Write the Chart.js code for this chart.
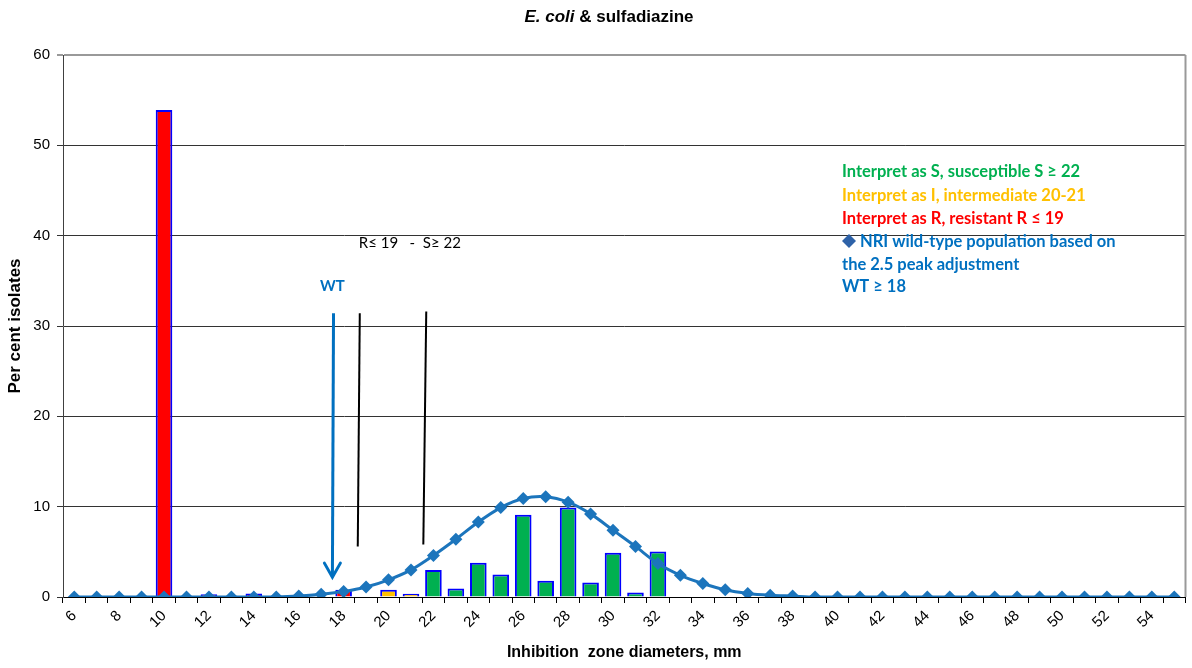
<!DOCTYPE html>
<html>
<head>
<meta charset="utf-8">
<title>E. coli &amp; sulfadiazine</title>
<script src="https://cdn.jsdelivr.net/npm/chart.js@4/dist/chart.umd.min.js"></script>
<style>
  html, body { margin: 0; padding: 0; background: #ffffff; }
  #wrap { width: 1192px; height: 668px; position: relative; }
</style>
</head>
<body>
<div id="wrap"><canvas id="chart" width="1192" height="668"></canvas></div>
<script>
// Inhibition zone diameters (mm), one category per millimetre
const zones = [6, 7, 8, 9, 10, 11, 12, 13, 14, 15, 16, 17, 18, 19, 20, 21, 22, 23, 24, 25,
               26, 27, 28, 29, 30, 31, 32, 33, 34, 35, 36, 37, 38, 39, 40, 41, 42, 43, 44, 45,
               46, 47, 48, 49, 50, 51, 52, 53, 54, 55];

// Per cent of isolates at each zone diameter (null = no isolates)
const isolates = [null, null, null, null, 53.9, null, 0.3, null, 0.4, null, null, null, 0.8, null, 0.8, 0.35, 3.0, 0.95, 3.8, 2.5,
                  9.1, 1.8, 9.9, 1.6, 4.9, 0.5, 5.05, null, null, null, null, null, null, null, null, null, null, null, null, null,
                  null, null, null, null, null, null, null, null, null, null];

// NRI wild-type population (2.5 peak adjustment)
const wildType = [0, 0, 0, 0, 0, 0, 0, 0, 0, 0, 0.1, 0.3, 0.6, 1.1, 1.9, 3.0, 4.6, 6.4, 8.3, 9.9,
                  10.9, 11.1, 10.5, 9.2, 7.4, 5.6, 3.7, 2.4, 1.5, 0.8, 0.4, 0.2, 0.1, 0, 0, 0, 0, 0, 0, 0,
                  0, 0, 0, 0, 0, 0, 0, 0, 0, 0];

// Clinical breakpoints
const resistantMax = 19;
const susceptibleMin = 22;
const wildTypeMin = 18;

const yTicks = [0, 10, 20, 30, 40, 50, 60];

// Legend / interpretation lines
const legendLines = [
  { text: 'Interpret as S, susceptible S \u2265 22', color: '#00B050' },
  { text: 'Interpret as I, intermediate 20-21', color: '#FFC000' },
  { text: 'Interpret as R, resistant R \u2264 19', color: '#FF0000' },
  { text: ' NRI wild-type population based on', color: '#0070C0', marker: true },
  { text: 'the 2.5 peak adjustment', color: '#0070C0' },
  { text: 'WT \u2265 18', color: '#0070C0' }
];

// Breakpoint markers, in axis units: [index top, value top, index bottom, value bottom]
const wtArrow = [11.55, 31.4, 11.5, 2.2];
const rLine = [12.72, 31.4, 12.63, 5.6];
const sLine = [15.68, 31.6, 15.55, 5.8];

const GREEN = '#00B050', ORANGE = '#FFC000', RED = '#FF0000', BLUE = '#0070C0';
const LINE_BLUE = '#1C75BC';

const barColors = zones.map(z => z <= resistantMax ? RED : (z < susceptibleMin ? ORANGE : GREEN));

const SANS = "'Liberation Sans', Arial, sans-serif";
const CAL = "Lato, 'Open Sans', sans-serif";

// draws text horizontally condensed, like a narrow face
function narrowText(ctx, text, x, y, squeeze) {
  ctx.save();
  ctx.translate(x, y);
  ctx.scale(squeeze, 1);
  ctx.fillText(text, 0, 0);
  ctx.restore();
}

const overlay = {
  id: 'overlay',
  afterDatasetsDraw(chart) {
    const { ctx, chartArea } = chart;
    const x = chart.scales.x, y = chart.scales.y;
    const px = v => x.getPixelForValue(v);
    const py = v => y.getPixelForValue(v);
    ctx.save();
    // right frame edge
    ctx.strokeStyle = '#999999';
    ctx.lineWidth = 2;
    ctx.beginPath();
    ctx.moveTo(chartArea.right, chartArea.top);
    ctx.lineTo(chartArea.right, chartArea.bottom);
    ctx.stroke();

    // breakpoint lines
    ctx.strokeStyle = '#000000';
    ctx.lineWidth = 2;
    [rLine, sLine].forEach(l => {
      ctx.beginPath();
      ctx.moveTo(px(l[0]), py(l[1]));
      ctx.lineTo(px(l[2]), py(l[3]));
      ctx.stroke();
    });

    // wild-type cut-off arrow
    ctx.strokeStyle = BLUE;
    ctx.lineWidth = 3;
    const ax = px(wtArrow[2]), ay = py(wtArrow[3]);
    ctx.beginPath();
    ctx.moveTo(px(wtArrow[0]), py(wtArrow[1]));
    ctx.lineTo(ax, ay);
    ctx.stroke();
    ctx.lineCap = 'round';
    ctx.beginPath();
    ctx.moveTo(ax - 8, ay - 14);
    ctx.lineTo(ax, ay);
    ctx.lineTo(ax + 8, ay - 14);
    ctx.stroke();

    // annotation labels
    ctx.textBaseline = 'middle';
    ctx.textAlign = 'center';
    ctx.fillStyle = BLUE;
    ctx.font = 'bold 15px ' + CAL;
    ctx.fillText('WT', px(11.5), py(34.4));
    ctx.fillStyle = '#000000';
    ctx.font = '15px ' + CAL;
    ctx.fillText('R\u2264 19   -  S\u2265 22', px(14.95), py(39.2));
    ctx.restore();
  },
  afterDraw(chart) {
    const { ctx } = chart;
    ctx.save();
    // title with italic species name
    ctx.textBaseline = 'middle';
    ctx.fillStyle = '#000000';
    const part1 = 'E. coli';
    const part2 = ' & sulfadiazine';
    ctx.font = 'italic bold 17px ' + SANS;
    const w1 = ctx.measureText(part1).width;
    ctx.font = 'bold 17px ' + SANS;
    const w2 = ctx.measureText(part2).width;
    let tx = 609 - (w1 + w2) / 2;
    ctx.textAlign = 'left';
    ctx.font = 'italic bold 17px ' + SANS;
    ctx.fillText(part1, tx, 17);
    ctx.font = 'bold 17px ' + SANS;
    ctx.fillText(part2, tx + w1, 17);

    // interpretation legend
    const lx = 842;
    const ly = [172, 196, 219, 242, 265, 287];
    ctx.font = 'bold 16.5px ' + CAL;
    legendLines.forEach((l, i) => {
      let x0 = lx;
      if (l.marker) {
        ctx.fillStyle = '#2E62A8';
        ctx.beginPath();
        ctx.moveTo(x0 + 7, ly[i] - 8);
        ctx.lineTo(x0 + 14, ly[i] - 1);
        ctx.lineTo(x0 + 7, ly[i] + 6);
        ctx.lineTo(x0, ly[i] - 1);
        ctx.closePath();
        ctx.fill();
        x0 += 14;
      }
      ctx.fillStyle = l.color;
      ctx.fillText(l.text, x0, ly[i]);
    });
    ctx.restore();
  }
};

new Chart(document.getElementById('chart'), {
  type: 'bar',
  data: {
    labels: zones,
    datasets: [
      {
        type: 'line',
        label: 'NRI wild-type population',
        data: wildType,
        borderColor: LINE_BLUE,
        backgroundColor: LINE_BLUE,
        borderWidth: 3,
        tension: 0.3,
        pointStyle: 'rectRot',
        pointRadius: 6.5,
        pointBorderWidth: 0,
        pointBackgroundColor: LINE_BLUE,
        order: 0
      },
      {
        type: 'bar',
        label: 'Isolates',
        data: isolates,
        backgroundColor: barColors,
        borderColor: '#0000FF',
        borderWidth: 2,
        categoryPercentage: 1.0,
        barPercentage: 0.74,
        order: 1
      }
    ]
  },
  options: {
    responsive: false,
    animation: false,
    devicePixelRatio: 1,
    layout: { padding: { top: 55, left: 0, right: 4, bottom: 0 } },
    plugins: {
      legend: { display: false },
      title: { display: false },
      tooltip: { enabled: false }
    },
    scales: {
      x: {
        type: 'category',
        offset: true,
        afterFit(scale) { scale.height = 71; },
        grid: {
          offset: true,
          drawOnChartArea: false,
          drawTicks: true,
          tickLength: 6,
          color: '#000000'
        },
        border: { color: '#000000', width: 1 },
        ticks: {
          autoSkip: false,
          minRotation: 45,
          maxRotation: 45,
          padding: 4,
          color: '#000000',
          font: { family: SANS, size: 15 },
          callback(value, index) {
            const z = zones[index];
            return z % 2 === 0 ? String(z) : '';
          }
        },
        title: {
          display: true,
          text: 'Inhibition  zone diameters, mm',
          color: '#000000',
          font: { family: SANS, size: 16, weight: 'bold' },
          padding: { top: 0, bottom: 6 }
        }
      },
      y: {
        min: 0,
        max: 60,
        afterFit(scale) { scale.width = 63; },
        afterBuildTicks(scale) { scale.ticks = yTicks.map(v => ({ value: v })); },
        grid: {
          color: ctx => ctx.tick && ctx.tick.value === 60 ? '#999999' : '#333333',
          lineWidth: ctx => ctx.tick && ctx.tick.value === 60 ? 2 : 1,
          tickLength: 6
        },
        border: { color: '#404040', width: 1 },
        ticks: {
          padding: 7,
          color: '#000000',
          font: { family: SANS, size: 15 }
        },
        title: {
          display: true,
          text: 'Per cent isolates',
          color: '#000000',
          font: { family: SANS, size: 17, weight: 'bold' },
          padding: { top: 5, bottom: 0 }
        }
      }
    }
  },
  plugins: [overlay]
});
</script>
</body>
</html>
